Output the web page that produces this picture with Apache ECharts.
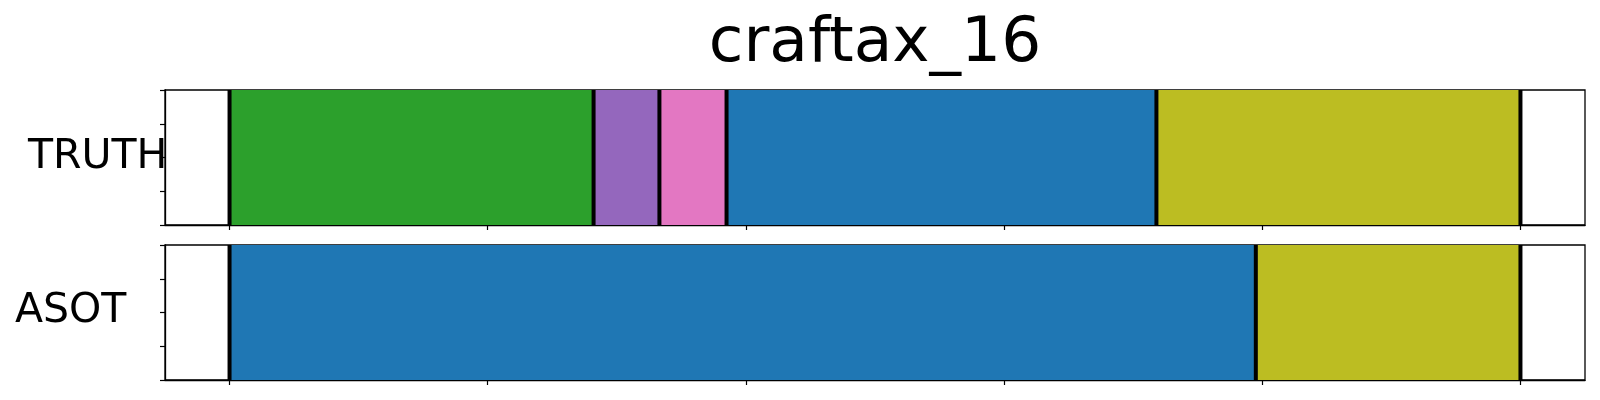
<!DOCTYPE html>
<html>
<head>
<meta charset="utf-8">
<script src="https://cdn.jsdelivr.net/npm/echarts@6/dist/echarts.min.js"></script>
<style>html,body{margin:0;padding:0;background:#fff}#c{width:1600px;height:400px}</style>
</head>
<body>
<div id="c"></div>
<script>
const titleText = 'craftax_16';
const rowNames = ['TRUTH', 'ASOT'];
const totalLength = 1000;
const xTicks = [0, 200, 400, 600, 800, 1000];
const yTicks = [0, 0.25, 0.5, 0.75, 1];
// segments: [start, end, colorName]
const truthSegments = [[0, 282, 'green'], [282, 333, 'purple'], [333, 385, 'pink'], [385, 718, 'blue'], [718, 1000, 'olive']];
const asotSegments = [[0, 795, 'blue'], [795, 1000, 'olive']];
const truthBounds = [0, 282, 333, 385, 718, 1000];
const asotBounds = [0, 795, 1000];
const palette = { green: '#2ca02c', purple: '#9467bd', pink: '#e377c2', blue: '#1f77b4', olive: '#bcbd22' };

const chart = echarts.init(document.getElementById('c'), null, { renderer: 'canvas' });
const font = 'DejaVu Sans';
const pad = totalLength * 0.05;

function xAxisFor(i) {
  return {
    gridIndex: i, type: 'value', min: -pad, max: totalLength + pad,
    axisLine: { show: true, onZero: false, lineStyle: { color: '#000', width: 1.3 } },
    axisTick: { show: true, customValues: xTicks, length: 5, inside: false, lineStyle: { color: '#000', width: 1.2 } },
    axisLabel: { show: false }, splitLine: { show: false }
  };
}
function yAxisFor(i) {
  return {
    gridIndex: i, type: 'value', min: 0, max: 1,
    axisLine: { show: true, onZero: false, lineStyle: { color: '#000', width: 1.3 } },
    axisTick: { show: true, customValues: yTicks, length: 5, inside: false, lineStyle: { color: '#000', width: 1.2 } },
    axisLabel: { show: false }, splitLine: { show: false }
  };
}
function segSeries(i, segs) {
  return {
    type: 'custom', xAxisIndex: i, yAxisIndex: i, clip: true,
    data: segs.map(s => [s[0], s[1], s[2]]),
    renderItem: function (params, api) {
      const p0 = api.coord([api.value(0), 1]);
      const p1 = api.coord([api.value(1), 0]);
      const c = palette[segs[params.dataIndex][2]];
      return { type: 'rect', shape: { x: p0[0], y: p0[1], width: p1[0] - p0[0], height: p1[1] - p0[1] }, style: { fill: c } };
    },
    silent: true, animation: false
  };
}
function boundSeries(i, bounds) {
  return {
    type: 'custom', xAxisIndex: i, yAxisIndex: i, clip: true,
    data: bounds.map(b => [b]),
    renderItem: function (params, api) {
      const p0 = api.coord([api.value(0), 1]);
      const p1 = api.coord([api.value(0), 0]);
      return { type: 'line', shape: { x1: p0[0], y1: p0[1], x2: p1[0], y2: p1[1] }, style: { stroke: '#000', lineWidth: 4 } };
    },
    silent: true, animation: false
  };
}

chart.setOption({
  animation: false,
  backgroundColor: '#fff',
  title: { text: titleText, left: 870, top: 8, textAlign: 'center',
    textStyle: { fontFamily: font, fontSize: 63, fontWeight: 'normal', color: '#000' } },
  grid: [
    { left: 165, top: 90, width: 1420, height: 135, show: true, borderColor: '#000', borderWidth: 1.3, backgroundColor: 'transparent' },
    { left: 165, top: 245, width: 1420, height: 135, show: true, borderColor: '#000', borderWidth: 1.3, backgroundColor: 'transparent' }
  ],
  xAxis: [xAxisFor(0), xAxisFor(1)],
  yAxis: [yAxisFor(0), yAxisFor(1)],
  graphic: [
    { type: 'text', left: 28, top: 137, style: { text: rowNames[0], font: '41px "DejaVu Sans"', fill: '#000', textAlign: 'left' } },
    { type: 'text', left: 15, top: 291, style: { text: rowNames[1], font: '41px "DejaVu Sans"', fill: '#000', textAlign: 'left' } }
  ],
  series: [segSeries(0, truthSegments), boundSeries(0, truthBounds), segSeries(1, asotSegments), boundSeries(1, asotBounds)]
});
</script>
</body>
</html>
